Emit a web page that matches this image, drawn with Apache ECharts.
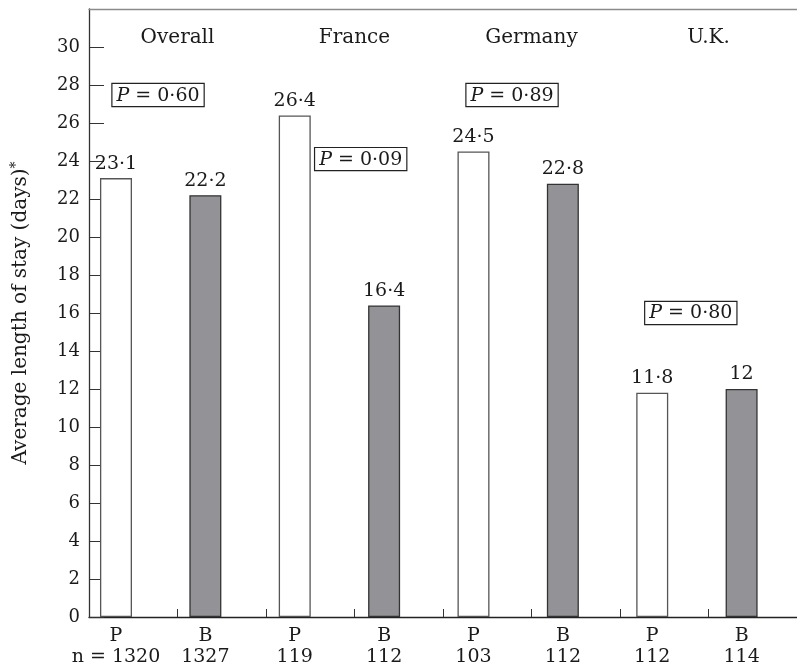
<!DOCTYPE html>
<html>
<head>
<meta charset="utf-8">
<title>Average length of stay</title>
<script src="https://cdn.jsdelivr.net/npm/echarts@6/dist/echarts.min.js"></script>
<style>
  html, body { margin: 0; padding: 0; background: #fff; }
  #chart { width: 797px; height: 669px; }
</style>
</head>
<body>
<div id="chart"></div>
<script>
// Treatment arm of each bar (P / B) and its sample size
const arms = ['P', 'B', 'P', 'B', 'P', 'B', 'P', 'B'];
const sampleSizes = ['n = 1320', '1327', '119', '112', '103', '112', '112', '114'];
// Average length of stay in days
const lengthOfStay = [23.1, 22.2, 26.4, 16.4, 24.5, 22.8, 11.8, 12];
// Country groups and P values for each P vs B comparison
const groupNames = ['Overall', 'France', 'Germany', 'U.K.'];
const pValues = ['0·60', '0·09', '0·89', '0·80'];
// Y axis tick values
const yTicks = [0, 2, 4, 6, 8, 10, 12, 14, 16, 18, 20, 22, 24, 26, 28, 30];

const FONT = 'DejaVu Serif';
const INK = '#1a1a1a';
const fmt = v => String(v).replace('.', '·');

// placement of the group headings and P-value boxes on the frame axes
const groupAt = [[1, 30.5], [3, 30.5], [5, 30.5], [7, 30.5]];
const pAt = [[0.78, 27.47], [3.07, 24.1], [4.78, 27.47], [6.8, 16.0]];

const chart = echarts.init(document.getElementById('chart'), null, { renderer: 'canvas' });

const barData = lengthOfStay.map((v, i) => ({
  value: v,
  itemStyle: arms[i] === 'P'
    ? { color: '#ffffff', borderColor: '#555', borderWidth: 1.3 }
    : { color: '#939397', borderColor: '#333', borderWidth: 1.3 }
}));

chart.setOption({
  animation: false,
  backgroundColor: '#fff',
  textStyle: { fontFamily: FONT, color: INK },
  grid: [
    { left: 71.3, right: 10.7, top: 9, bottom: 52 },
    { left: 89, right: -7, top: 9, bottom: 52 }
  ],
  xAxis: [
    {
      gridIndex: 0,
      type: 'category',
      data: arms.map((a, i) => a + '\n' + sampleSizes[i]),
      axisLine: { show: false },
      axisTick: { show: false },
      axisLabel: {
        interval: 0,
        fontFamily: FONT, fontSize: 19, color: INK, lineHeight: 21, margin: 9
      }
    },
    {
      gridIndex: 1,
      type: 'value',
      min: 0, max: 8, interval: 1,
      axisLine: { show: true, lineStyle: { color: '#222', width: 1.3 } },
      axisTick: { show: true, inside: true, length: 8, lineStyle: { color: '#333', width: 1 } },
      axisLabel: { show: false },
      splitLine: { show: false }
    },
    {
      gridIndex: 1,
      type: 'value',
      position: 'top',
      min: 0, max: 8,
      axisLine: { show: true, lineStyle: { color: '#8a8a8a', width: 1.3 } },
      axisTick: { show: false },
      axisLabel: { show: false },
      splitLine: { show: false }
    }
  ],
  yAxis: [
    {
      gridIndex: 0,
      type: 'value',
      min: 0, max: 32,
      show: false
    },
    {
      gridIndex: 1,
      type: 'value',
      min: 0, max: 32, interval: 2,
      name: 'Average length of stay (days){sup|*}',
      nameLocation: 'middle',
      nameGap: 56,
      nameRotate: 90,
      nameTextStyle: {
        fontFamily: FONT, fontSize: 20, color: INK,
        rich: { sup: { fontFamily: FONT, fontSize: 14, color: INK, padding: [0, 0, 10, 0] } }
      },
      axisLine: { show: true, lineStyle: { color: '#333', width: 1.3 } },
      axisTick: {
        show: true, inside: true, length: 15,
        customValues: yTicks,
        lineStyle: { color: '#333', width: 1 }
      },
      axisLabel: {
        customValues: yTicks,
        fontFamily: FONT, fontSize: 18, color: INK, margin: 9
      },
      splitLine: { show: false }
    }
  ],
  series: [
    {
      type: 'bar',
      xAxisIndex: 0, yAxisIndex: 0,
      barWidth: 32,
      data: barData,
      label: {
        show: true,
        position: 'top',
        distance: 5,
        fontFamily: FONT, fontSize: 19, color: INK,
        formatter: p => fmt(p.value)
      }
    },
    {
      type: 'scatter',
      xAxisIndex: 1, yAxisIndex: 1,
      symbolSize: 0,
      silent: true,
      itemStyle: { opacity: 1 },
      data: groupAt.map((pos, i) => ({ value: pos, name: groupNames[i] })),
      label: {
        show: true,
        position: 'inside',
        fontFamily: FONT, fontSize: 20, color: INK,
        formatter: p => p.name
      }
    },
    {
      type: 'scatter',
      xAxisIndex: 1, yAxisIndex: 1,
      symbolSize: 0,
      silent: true,
      itemStyle: { opacity: 1 },
      data: pAt.map((pos, i) => ({ value: pos, name: pValues[i] })),
      label: {
        show: true,
        position: 'inside',
        fontFamily: FONT, fontSize: 19, color: INK,
        borderColor: '#222', borderWidth: 1.2,
        padding: [2, 4, 1, 4],
        backgroundColor: '#fff',
        formatter: p => '{i|P} = ' + p.name,
        rich: { i: { fontFamily: FONT, fontStyle: 'italic', fontSize: 19, color: INK } }
      }
    }
  ]
});
</script>
</body>
</html>
